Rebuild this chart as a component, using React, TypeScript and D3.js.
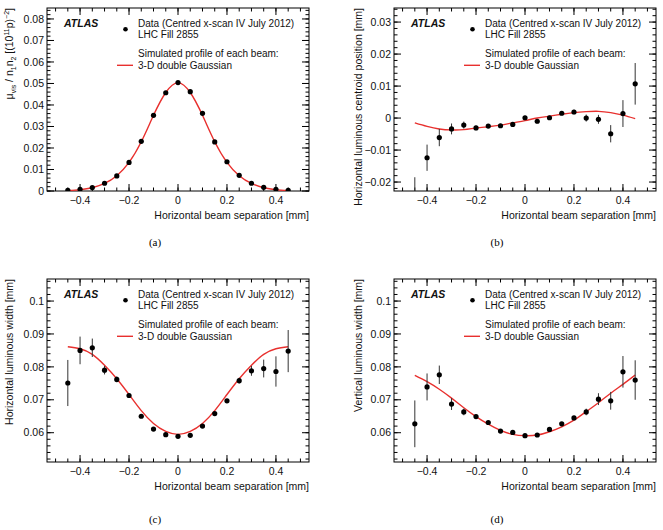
import React from "react";
import * as d3 from "d3";

// beam separation points of the x-scan [mm]
const sep = [
  -0.45, -0.4, -0.35, -0.3, -0.25, -0.2, -0.15, -0.1, -0.05, 0,
  0.05, 0.1, 0.15, 0.2, 0.25, 0.3, 0.35, 0.4, 0.45,
];

// (a) specific visible interaction rate
const muVis = [
  0.0003, 0.0008, 0.0016, 0.0036, 0.007, 0.0133, 0.0231, 0.0352, 0.0457, 0.0504,
  0.0462, 0.0361, 0.0228, 0.0136, 0.0073, 0.0036, 0.0017, 0.0008, 0.0003,
];
const muVisErr = [
  0.0001, 0.0001, 0.0001, 0.0001, 0.0001, 0.0001, 0.0001, 0.0001, 0.0001, 0.0001,
  0.0001, 0.0001, 0.0001, 0.0001, 0.0001, 0.0001, 0.0001, 0.0001, 0.0001,
];
const muVisFit = [
  0.0002, 0.0006, 0.0015, 0.0035, 0.0071, 0.0133, 0.0229, 0.0352, 0.0458, 0.0503,
  0.0458, 0.0352, 0.0229, 0.0133, 0.0071, 0.0035, 0.0015, 0.0006, 0.0002,
];

// (b) horizontal luminous centroid position [mm]
const centroid = [
  -0.026, -0.0124, -0.0061, -0.0034, -0.0022, -0.0031, -0.0025, -0.0024, -0.002, 0.0001,
  -0.001, 0.0001, 0.0015, 0.0019, 0.0, -0.0004, -0.0049, 0.0014, 0.0107,
];
const centroidErr = [
  0.0075, 0.0041, 0.0027, 0.0017, 0.0011, 0.0007, 0.0006, 0.0006, 0.0006, 0.0006,
  0.0006, 0.0006, 0.0006, 0.0007, 0.0011, 0.0014, 0.0027, 0.0042, 0.0065,
];
const centroidFit = [
  -0.0015, -0.0026, -0.0034, -0.0037, -0.0036, -0.0031, -0.0027, -0.0022, -0.0015, -0.0008,
  0.0, 0.0006, 0.0012, 0.0017, 0.002, 0.0021, 0.0017, 0.0009, -0.0002,
];

// (c) horizontal luminous width [mm]
const widthX = [
  0.0751, 0.085, 0.0858, 0.079, 0.0762, 0.0713, 0.065, 0.0611, 0.0594, 0.0589,
  0.0592, 0.062, 0.0658, 0.0697, 0.0758, 0.0788, 0.0795, 0.0786, 0.0848,
];
const widthXErr = [
  0.007, 0.0042, 0.0028, 0.0013, 0.0009, 0.0006, 0.0004, 0.0003, 0.0003, 0.0003,
  0.0003, 0.0003, 0.0004, 0.0006, 0.0009, 0.0015, 0.0027, 0.0046, 0.0064,
];
const widthXFit = [
  0.0861, 0.0855, 0.0838, 0.0805, 0.0764, 0.0716, 0.0667, 0.0628, 0.0604, 0.0595,
  0.0604, 0.0628, 0.0667, 0.0716, 0.0764, 0.0805, 0.0838, 0.0855, 0.0861,
];

// (d) vertical luminous width [mm]
const widthY = [
  0.0627, 0.0739, 0.0776, 0.0687, 0.0663, 0.0649, 0.0631, 0.0605, 0.0601, 0.0591,
  0.0593, 0.061, 0.0627, 0.0645, 0.0663, 0.0702, 0.0697, 0.0785, 0.076,
];
const widthYErr = [
  0.0071, 0.0041, 0.0028, 0.0018, 0.001, 0.0006, 0.0004, 0.0003, 0.0003, 0.0003,
  0.0003, 0.0003, 0.0004, 0.0006, 0.001, 0.0018, 0.0027, 0.0048, 0.006,
];
const widthYFit = [
  0.0774, 0.0755, 0.0732, 0.0705, 0.0676, 0.0649, 0.0626, 0.0607, 0.0595, 0.0591,
  0.0593, 0.0603, 0.0618, 0.0638, 0.0664, 0.0691, 0.072, 0.0747, 0.0775,
];

const xTitle = "Horizontal beam separation [mm]";
const legendData = ["Data (Centred x-scan IV July 2012)", "LHC Fill 2855"];
const legendFit = ["Simulated profile of each beam:", "3-D double Gaussian"];

const sans = "'Liberation Sans', Arial, Helvetica, sans-serif";
const red = "#e8302e";
const W = 262;
const H = 183;

const fmt = d3.format("~g");

function steps(lo: number, hi: number, step: number) {
  return d3
    .range(Math.ceil(lo / step - 1e-9), Math.floor(hi / step + 1e-9) + 1)
    .map((i) => +(i * step).toFixed(6));
}

function Panel(props: any) {
  const { id, left, top, yDomain, values, errors, fit, yTitle, tag, tagX, tagY, titleX } = props;
  const x = d3.scaleLinear().domain([-0.535, 0.535]).range([left, left + W]);
  const y = d3.scaleLinear().domain(yDomain).range([top + H, top]);
  const bottom = top + H;
  const right = left + W;

  const xMaj = steps(-0.535, 0.535, 0.2);
  const xMin = steps(-0.535, 0.535, 0.05);
  const yMaj = steps(yDomain[0], yDomain[1], 0.01);
  const yMin = steps(yDomain[0], yDomain[1], 0.002);

  const line = d3
    .line<number>()
    .x((_, i) => x(sep[i]))
    .y((d) => y(d))
    .curve(d3.curveNatural);

  return (
    <g>
      <defs>
        <clipPath id={id}>
          <rect x={left} y={top} width={W} height={H} />
        </clipPath>
      </defs>

      {/* ticks on all four sides */}
      <g stroke="#000" strokeWidth={1}>
        {xMin.map((v) => (
          <g key={"xm" + v}>
            <line x1={x(v)} x2={x(v)} y1={bottom} y2={bottom - 3.5} />
            <line x1={x(v)} x2={x(v)} y1={top} y2={top + 3.5} />
          </g>
        ))}
        {xMaj.map((v) => (
          <g key={"xM" + v}>
            <line x1={x(v)} x2={x(v)} y1={bottom} y2={bottom - 7} />
            <line x1={x(v)} x2={x(v)} y1={top} y2={top + 7} />
          </g>
        ))}
        {yMin.map((v) => (
          <g key={"ym" + v}>
            <line x1={left} x2={left + 3.5} y1={y(v)} y2={y(v)} />
            <line x1={right} x2={right - 3.5} y1={y(v)} y2={y(v)} />
          </g>
        ))}
        {yMaj.map((v) => (
          <g key={"yM" + v}>
            <line x1={left} x2={left + 7} y1={y(v)} y2={y(v)} />
            <line x1={right} x2={right - 7} y1={y(v)} y2={y(v)} />
          </g>
        ))}
      </g>
      <rect x={left} y={top} width={W} height={H} fill="none" stroke="#000" strokeWidth={1} />

      {/* tick labels */}
      <g fontFamily={sans} fontSize={10.5} fill="#111">
        {xMaj.map((v) => (
          <text key={"xl" + v} x={x(v)} y={bottom + 13} textAnchor="middle">
            {fmt(v)}
          </text>
        ))}
        {yMaj.map((v) => (
          <text key={"yl" + v} x={left - 3} y={y(v) + 3.7} textAnchor="end">
            {fmt(v)}
          </text>
        ))}
        <text x={right} y={bottom + 28} textAnchor="end">
          {xTitle}
        </text>
        <text transform={`translate(${titleX},${top}) rotate(-90)`} textAnchor="end">
          {yTitle}
        </text>
      </g>

      {/* fit curve and data points */}
      <g clipPath={`url(#${id})`}>
        <path d={line(fit) || ""} fill="none" stroke={red} strokeWidth={1.4} />
        {values.map((v: number, i: number) => (
          <g key={"p" + i}>
            <line
              x1={x(sep[i])}
              x2={x(sep[i])}
              y1={y(v - errors[i])}
              y2={y(v + errors[i])}
              stroke="#333"
              strokeWidth={1}
            />
            <circle cx={x(sep[i])} cy={y(v)} r={2.6} fill="#000" />
          </g>
        ))}
      </g>

      {/* legend */}
      <g fontFamily={sans} fontSize={10} fill="#111">
        <text x={left + 17} y={top + 18.7} fontWeight="bold" fontStyle="italic" fontSize={10.5}>
          ATLAS
        </text>
        <circle cx={left + 78.5} cy={top + 21.3} r={2.3} fill="#000" />
        <text x={left + 91} y={top + 18.7}>{legendData[0]}</text>
        <text x={left + 91} y={top + 29.9}>{legendData[1]}</text>
        <text x={left + 91} y={top + 48.8}>{legendFit[0]}</text>
        <text x={left + 91} y={top + 60.8}>{legendFit[1]}</text>
        <line x1={left + 70} x2={left + 86} y1={top + 57.3} y2={top + 57.3} stroke={red} strokeWidth={1.4} />
      </g>

      <text x={tagX} y={tagY} textAnchor="middle" fontFamily="'Liberation Serif', 'Times New Roman', serif" fontSize={11}>
        {tag}
      </text>
    </g>
  );
}

const muTitle = (
  <>
    μ<tspan dy={3} fontSize={7}>vis</tspan>
    <tspan dy={-3}> / n</tspan>
    <tspan dy={3} fontSize={7}>1</tspan>
    <tspan dy={-3}>n</tspan>
    <tspan dy={3} fontSize={7}>2</tspan>
    <tspan dy={-3}> [(10</tspan>
    <tspan dy={-4} fontSize={7}>11</tspan>
    <tspan dy={4}>p)</tspan>
    <tspan dy={-4} fontSize={7}>−2</tspan>
    <tspan dy={4}>]</tspan>
  </>
);

export default function App() {
  return (
    <svg
      width={663}
      height={530}
      style={{ position: "absolute", left: 0, top: 0, background: "#fff" }}
    >
      <Panel
        id="clipA"
        left={47}
        top={8}
        yDomain={[0, 0.0851]}
        values={muVis}
        errors={muVisErr}
        fit={muVisFit}
        yTitle={muTitle}
        titleX={13}
        tag="(a)"
        tagX={155}
        tagY={246}
      />
      <Panel
        id="clipB"
        left={394}
        top={8}
        yDomain={[-0.0228, 0.0344]}
        values={centroid}
        errors={centroidErr}
        fit={centroidFit}
        yTitle="Horizontal luminous centroid position [mm]"
        titleX={362}
        tag="(b)"
        tagX={497}
        tagY={246}
      />
      <Panel
        id="clipC"
        left={47}
        top={279}
        yDomain={[0.0511, 0.1067]}
        values={widthX}
        errors={widthXErr}
        fit={widthXFit}
        yTitle="Horizontal luminous width [mm]"
        titleX={13}
        tag="(c)"
        tagX={155}
        tagY={523}
      />
      <Panel
        id="clipD"
        left={394}
        top={279}
        yDomain={[0.0511, 0.1067]}
        values={widthY}
        errors={widthYErr}
        fit={widthYFit}
        yTitle="Vertical luminous width [mm]"
        titleX={362}
        tag="(d)"
        tagX={497}
        tagY={523}
      />
    </svg>
  );
}
